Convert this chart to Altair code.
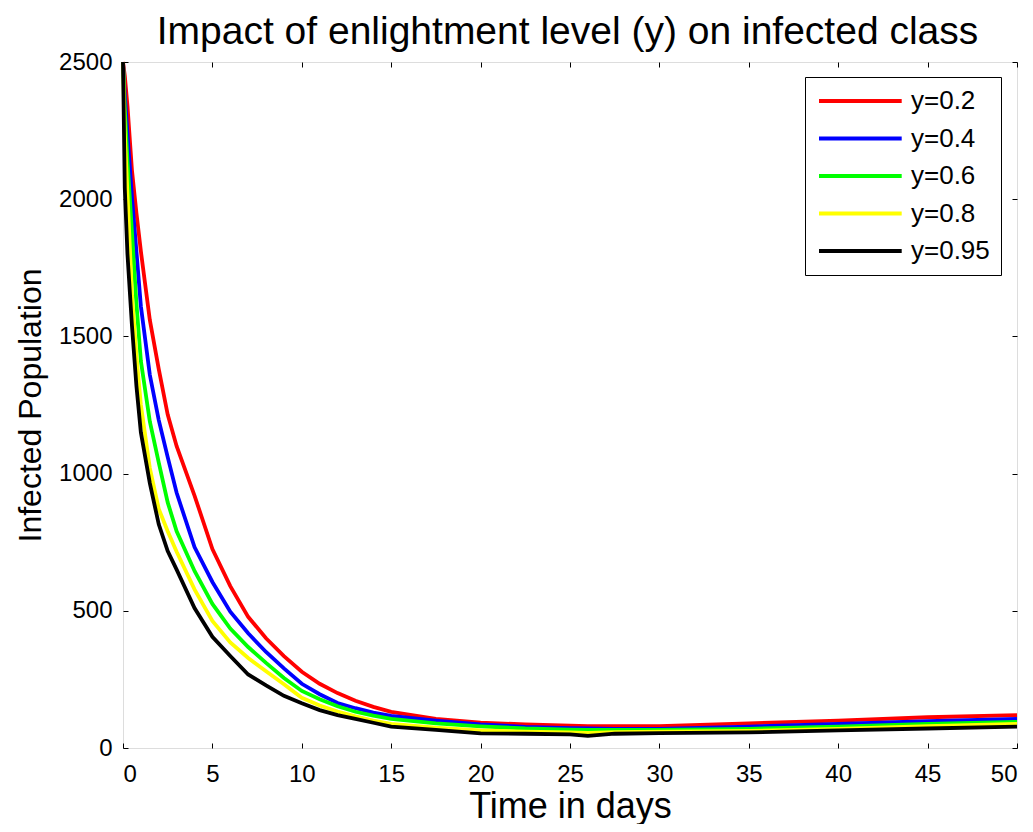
import altair as alt
import pandas as pd

# ---- data ----
days = [0, 0.1, 0.25, 0.5, 0.75, 1, 1.5, 2, 2.5, 3, 4, 5, 6, 7, 8, 9, 10, 11, 12,
        13, 14, 15, 17.5, 20, 22.5, 25, 26, 27.5, 30, 35, 40, 45, 50]

y_02 = [2500, 2450, 2340, 2106, 1950, 1810, 1560, 1381, 1215, 1100, 920, 725, 590,
        478, 400, 335, 278, 234, 200, 172, 150, 132, 106, 92, 86, 81, 80, 80, 80,
        90, 100, 112, 120]
y_04 = [2500, 2380, 2240, 2008, 1810, 1610, 1360, 1195, 1060, 930, 732, 605, 497,
        418, 350, 290, 234, 196, 164, 145, 129, 117, 100, 86, 77, 72, 71, 70, 70,
        78, 88, 98, 106]
y_06 = [2500, 2330, 2140, 1880, 1620, 1410, 1190, 1040, 895, 790, 645, 525, 435,
        368, 310, 255, 208, 178, 152, 132, 118, 106, 90, 79, 71, 67, 66, 66, 66,
        70, 78, 88, 95]
y_08 = [2500, 2240, 2020, 1650, 1430, 1250, 1020, 871, 790, 715, 578, 463, 385,
        328, 280, 232, 183, 155, 133, 115, 100, 88, 74, 64, 60, 57, 55, 58, 60,
        62, 70, 80, 88]
y_095 = [2500, 2040, 1800, 1540, 1320, 1150, 965, 815, 718, 650, 510, 405, 335,
         268, 228, 190, 163, 138, 120, 106, 92, 78, 66, 53, 52, 50, 44, 52, 54,
         57, 64, 71, 78]

series_names = ["y=0.2", "y=0.4", "y=0.6", "y=0.8", "y=0.95"]
series_values = [y_02, y_04, y_06, y_08, y_095]
series_colors = ["#ff0000", "#0000ff", "#00ff00", "#ffff00", "#000000"]

x_ticks = [0, 5, 10, 15, 20, 25, 30, 35, 40, 45, 50]
y_ticks = [0, 500, 1000, 1500, 2000, 2500]

title_text = "Impact of enlightment level (y) on infected class"

rows = []
for k, (name, vals) in enumerate(zip(series_names, series_values)):
    for t, v in zip(days, vals):
        rows.append({"t": t, "v": v, "s": name, "k": k})
df = pd.DataFrame(rows)

FONT = "Liberation Sans"

xs = alt.Scale(domain=[0, 50], nice=False, zero=False)
ys = alt.Scale(domain=[0, 2500], nice=False)

ax_bottom = alt.Axis(values=x_ticks, offset=-5, tickSize=5, domain=False, grid=False,
                     labelPadding=14, labelFontSize=24, labelFont=FONT,
                     labelColor="black", tickColor="black", format="d",
                     title="Time in days", titleFontSize=36, titleFont=FONT,
                     titleFontWeight="normal", titleColor="black",
                     titleBaseline="alphabetic", titleY=74)
ax_left = alt.Axis(values=y_ticks, offset=-5, tickSize=5, domain=False, grid=False,
                   labelPadding=11, labelFontSize=24, labelFont=FONT,
                   labelColor="black", tickColor="black", format="d",
                   title="Infected Population", titleFontSize=32, titleFont=FONT,
                   titleFontWeight="normal", titleColor="black",
                   titleBaseline="alphabetic", titleX=-88, titleAngle=270)
ax_top = alt.Axis(orient="top", values=x_ticks, offset=-5, tickSize=5, domain=False,
                  grid=False, labels=False, tickColor="black",
                  title=title_text, titleFontSize=39, titleFont=FONT,
                  titleFontWeight="normal", titleColor="black",
                  titleBaseline="alphabetic", titleAlign="center",
                  titleX=444, titleY=-24)
ax_right = alt.Axis(orient="right", values=y_ticks, offset=-5, tickSize=5,
                    domain=False, grid=False, labels=False, title=None,
                    tickColor="black")

base = alt.Chart(df)

lines = base.mark_line(strokeWidth=3.8).encode(
    x=alt.X("t:Q", scale=xs, axis=ax_bottom),
    y=alt.Y("v:Q", scale=ys, axis=ax_left),
    color=alt.Color(
        "s:N",
        scale=alt.Scale(domain=series_names, range=series_colors),
        legend=alt.Legend(
            title=None, orient="none", legendX=682, legendY=15,
            symbolType="M-1,0H7.27", symbolSize=400, symbolStrokeWidth=3.8,
            labelFontSize=26, labelFont=FONT, labelColor="black",
            labelOffset=69, padding=11, rowPadding=11.5,
            strokeColor="black", fillColor="white", cornerRadius=0,
        ),
    ),
    order=alt.Order("k:Q"),
    detail="s:N",
)

frame = base.mark_line(opacity=0).encode(
    x=alt.X("t:Q", scale=xs, axis=ax_top),
    y=alt.Y("v:Q", scale=ys, axis=ax_right),
)

chart = (
    alt.layer(lines, frame)
    .resolve_axis(x="independent", y="independent")
    .properties(
        width=894,
        height=686,
        autosize=alt.AutoSizeParams(type="none"),
        padding={"left": 115, "top": 54, "right": 8, "bottom": 76},
    )
    .configure_view(stroke="black", strokeWidth=1.5)
    .configure(background="white")
)

chart.save("out.html", embed_options={"renderer": "svg", "actions": False})
